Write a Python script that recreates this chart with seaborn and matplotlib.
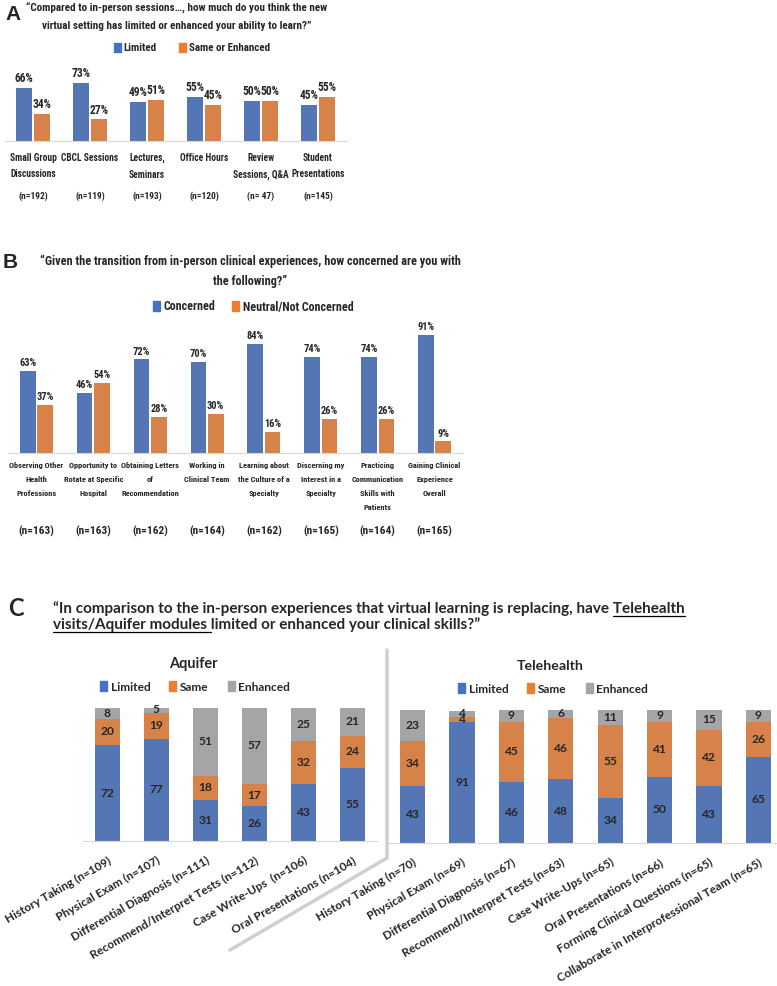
# Survey figure: panel A/B grouped bars, panel C stacked bars (Aquifer vs Telehealth)
import os
import numpy as np
import pandas as pd
import seaborn as sns
import matplotlib.pyplot as plt
from matplotlib import font_manager
from matplotlib.font_manager import FontProperties
from matplotlib.patches import Patch
from matplotlib.lines import Line2D

# %%
# data
a_cats = ['Small Group\nDiscussions', 'CBCL Sessions', 'Lectures,\nSeminars',
          'Office Hours', 'Review\nSessions, Q&A', 'Student\nPresentations']
a_n = ['(n=192)', '(n=119)', '(n=193)', '(n=120)', '(n= 47)', '(n=145)']
a_limited = [66, 73, 49, 55, 50, 45]
a_same = [34, 27, 51, 45, 50, 55]

b_cats = ['Observing Other\nHealth\nProfessions', 'Opportunity to\nRotate at Specific\nHospital',
          'Obtaining Letters\nof\nRecommendation', 'Working in\nClinical Team',
          'Learning about\nthe Culture of a\nSpecialty', 'Discerning my\nInterest in a\nSpecialty',
          'Practicing\nCommunication\nSkills with\nPatients', 'Gaining Clinical\nExperience\nOverall']
b_n = ['(n=163)', '(n=163)', '(n=162)', '(n=164)', '(n=162)', '(n=165)', '(n=164)', '(n=165)']
b_concerned = [63, 46, 72, 70, 84, 74, 74, 91]
b_neutral = [37, 54, 28, 30, 16, 26, 26, 9]

aq_cats = ['History Taking (n=109)', 'Physical Exam (n=107)', 'Differential Diagnosis (n=111)',
           'Recommend/Interpret Tests (n=112)', 'Case Write-Ups  (n=106)', 'Oral Presentations (n=104)']
aq_limited = [72, 77, 31, 26, 43, 55]
aq_same = [20, 19, 18, 17, 32, 24]
aq_enhanced = [8, 5, 51, 57, 25, 21]

th_cats = ['History Taking (n=70)', 'Physical Exam (n=69)', 'Differential Diagnosis (n=67)',
           'Recommend/Interpret Tests (n=63)', 'Case Write-Ups (n=65)', 'Oral Presentations (n=66)',
           'Forming Clinical Questions (n=65)', 'Collaborate in Interprofessional Team (n=65)']
th_limited = [43, 91, 46, 48, 34, 50, 43, 65]
th_same = [34, 4, 45, 46, 55, 41, 42, 26]
th_enhanced = [23, 4, 9, 6, 11, 9, 15, 9]

BLUE, ORANGE, GRAY = '#4472C4', '#ED7D31', '#A5A5A5'

# %%
sns.set_style('white')
plt.rcParams['font.family'] = ['Liberation Sans', 'DejaVu Sans']

def find_font(keys):
    files = [f.fname for f in font_manager.fontManager.ttflist]
    for k in keys:
        for fn in files:
            base = os.path.basename(fn).lower().replace('_', '').replace('-', '').replace(' ', '')
            if base.startswith(k):
                return fn
    return None

narrow_file = find_font(['robotocondensedbold.', 'liberationsansnarrowbold.',
                         'opensanscondensedbold.', 'dejavusanscondensedbold.'])
if narrow_file:
    NARROW = FontProperties(fname=narrow_file)
else:
    NARROW = FontProperties(family='Liberation Sans', weight='bold')
WIDE = FontProperties(family=['Lato', 'DejaVu Sans'], weight='bold')

W, H = 777, 986
fig = plt.figure(figsize=(W / 100, H / 100), dpi=100)
r = fig.canvas.get_renderer()

def fp(base, size):
    p = base.copy()
    p.set_size(size)
    return p

def text_w(s, prop):
    t = fig.text(0, 0, s, fontproperties=prop)
    w = t.get_window_extent(renderer=r).width
    t.remove()
    return w

def fit(s, target_px, base):
    # font size that gives the string the width seen in the reference
    return 10 * target_px / text_w(s, fp(base, 10))

def box(l, t, rr, b):
    return [l / W, 1 - b / H, (rr - l) / W, (b - t) / H]

def clean(ax):
    sns.despine(ax=ax, left=True)
    ax.spines['bottom'].set_color('#d9d9d9')
    ax.spines['bottom'].set_linewidth(0.8)
    ax.set_yticks([])
    ax.set_xlabel('')
    ax.set_ylabel('')
    ax.tick_params(axis='x', length=0)

def grouped(ax, cats, n_labels, s1, s2, labs, f_tick, f_val, f_n, pad, ls, n_off):
    df = pd.DataFrame({'cat': cats * 2, 'pct': s1 + s2,
                       'grp': [labs[0]] * len(cats) + [labs[1]] * len(cats)})
    sns.barplot(data=df, x='cat', y='pct', hue='grp', palette=[BLUE, ORANGE],
                width=0.61, gap=0.1, errorbar=None, legend=False, linewidth=0, ax=ax)
    for c in ax.containers:
        ax.bar_label(c, fmt='%g%%', padding=2, fontproperties=fp(NARROW, f_val))
    clean(ax)
    ax.set_ylim(0, 100)
    ax.set_xlim(-0.5, len(cats) - 0.5)
    ax.set_xticks(range(len(cats)))
    ax.set_xticklabels(cats, fontproperties=fp(NARROW, f_tick), linespacing=ls)
    ax.tick_params(axis='x', pad=pad)
    for i, n in enumerate(n_labels):
        ax.annotate(n, xy=(i, 0), xycoords=('data', 'axes fraction'),
                    xytext=(0, -n_off * 0.72), textcoords='offset points',
                    ha='center', va='center', fontproperties=fp(NARROW, f_n))

def stacked(ax, cats, lim, same, enh, f_val, f_tick):
    df = pd.DataFrame({'cat': cats, 'lim': lim, 'same': same, 'enh': enh})
    df['top_same'] = df['lim'] + df['same']
    df['top_enh'] = df['top_same'] + df['enh']
    for col, colr in [('top_enh', GRAY), ('top_same', ORANGE), ('lim', BLUE)]:
        sns.barplot(data=df, x='cat', y=col, color=colr, width=0.51,
                    errorbar=None, linewidth=0, ax=ax)
    for i, row in df.iterrows():
        bottom = 0
        for v in [row['lim'], row['same'], row['enh']]:
            ax.text(i, bottom + v / 2, str(v), ha='center', va='center',
                    fontproperties=fp(WIDE, f_val))
            bottom += v
    clean(ax)
    ax.set_ylim(0, 100)
    ax.set_xlim(-0.5, len(cats) - 0.5)
    ax.set_xticks(range(len(cats)))
    ax.set_xticklabels(cats, rotation=30, ha='right', rotation_mode='anchor',
                       fontproperties=fp(WIDE, f_tick))
    ax.tick_params(axis='x', pad=10)

def legend(labels, colors, x, y, prop, spacing=1.6):
    handles = [Patch(color=c) for c in colors]
    fig.legend(handles, labels, loc='center', bbox_to_anchor=(x / W, 1 - y / H),
               ncol=len(labels), frameon=False, prop=prop, handlelength=0.6,
               handleheight=0.9, handletextpad=0.3, columnspacing=spacing)

# %%
# Panel A
a_tick = fit('Small Group', 43, NARROW) * 1.08
a_val = fit('66%', 17, NARROW) * 1.12
a_title = fit('“Compared to in-person sessions…, how much do you think the new', 273, NARROW) * 1.1
axA = fig.add_axes(box(4.5, 61, 346.5, 141))
grouped(axA, a_cats, a_n, a_limited, a_same, ['Limited', 'Same or Enhanced'],
        a_tick, a_val, fit('(n=192)', 27, NARROW) * 1.1, 8.5, 1.8, 55)
fig.text(5 / W, 1 - 15 / H, 'A', fontsize=15, fontweight='bold', va='center')
fig.text(177 / W, 1 - 8 / H, '“Compared to in-person sessions…, how much do you think the new',
         ha='center', va='center', fontproperties=fp(NARROW, a_title))
fig.text(177 / W, 1 - 26 / H, 'virtual setting has limited or enhanced your ability to learn?”',
         ha='center', va='center', fontproperties=fp(NARROW, a_title))
legend(['Limited', 'Same or Enhanced'], [BLUE, ORANGE], 192, 48,
       fp(NARROW, fit('Same or Enhanced', 74, NARROW) * 1.1), 2.0)

# Panel B
b_tick = fit('Observing Other', 52, NARROW) * 1.05
b_title = fit('“Given the transition from in-person clinical experiences, how concerned are you with',
              382, NARROW) * 1.1
axB = fig.add_axes(box(8, 323, 463, 453))
grouped(axB, b_cats, b_n, b_concerned, b_neutral, ['Concerned', 'Neutral/Not Concerned'],
        b_tick, fit('63%', 15, NARROW) * 1.15, fit('(n=163)', 36, NARROW), 6.5, 2.15, 78)
fig.text(3 / W, 1 - 262 / H, 'B', fontsize=15, fontweight='bold', va='center')
fig.text(250 / W, 1 - 261 / H,
         '“Given the transition from in-person clinical experiences, how concerned are you with',
         ha='center', va='center', fontproperties=fp(NARROW, b_title))
fig.text(250 / W, 1 - 281 / H, 'the following?”', ha='center', va='center',
         fontproperties=fp(NARROW, b_title))
legend(['Concerned', 'Neutral/Not Concerned'], [BLUE, ORANGE], 253, 307,
       fp(NARROW, fit('Neutral/Not Concerned', 105, NARROW) * 1.05), 1.4)

# Panel C
c_val = fit('72', 14, WIDE)
c_tick = fit('History Taking (n=109)', 121, WIDE)
axQ = fig.add_axes(box(83, 708, 377, 841))
stacked(axQ, aq_cats, aq_limited, aq_same, aq_enhanced, c_val, c_tick)
axT = fig.add_axes(box(388, 710, 783, 843))
stacked(axT, th_cats, th_limited, th_same, th_enhanced, c_val, c_tick)

fig.text(8 / W, 1 - 608 / H, 'C', va='center', fontproperties=fp(WIDE, 17))
fig.text(193 / W, 1 - 664 / H, 'Aquifer', ha='center', va='center',
         fontproperties=fp(WIDE, fit('Aquifer', 49, WIDE)))
fig.text(550 / W, 1 - 666 / H, 'Telehealth', ha='center', va='center',
         fontproperties=fp(WIDE, fit('Telehealth', 67, WIDE)))
c_leg = fp(WIDE, fit('Enhanced', 52, WIDE))
legend(['Limited', 'Same', 'Enhanced'], [BLUE, ORANGE, GRAY], 195, 687, c_leg)
legend(['Limited', 'Same', 'Enhanced'], [BLUE, ORANGE, GRAY], 553, 689, c_leg)

# separator between the two stacked charts
fig.add_artist(Line2D([387 / W, 387 / W, 230 / W], [1 - 650 / H, 1 - 858 / H, 1 - 950 / H],
                      color='#cfcfcf', lw=2.5))

# C title with underlined words
c_line1 = '“In comparison to the in-person experiences that virtual learning is replacing, have Telehealth'
c_prop = fp(WIDE, fit(c_line1, 632, WIDE))
l1 = fig.text(53 / W, 1 - 613 / H, c_line1, fontproperties=c_prop, va='baseline', ha='left')
l2 = fig.text(53 / W, 1 - 629 / H, 'visits/Aquifer modules limited or enhanced your clinical skills?”',
              fontproperties=c_prop, va='baseline', ha='left')
e1 = l1.get_window_extent(renderer=r)
u1 = text_w('Telehealth', c_prop)
fig.add_artist(Line2D([(e1.x1 - u1) / W, e1.x1 / W], [1 - 615.5 / H] * 2, color='black', lw=0.9))
e2 = l2.get_window_extent(renderer=r)
u2 = text_w('visits/Aquifer modules l', c_prop) - text_w('l', c_prop)
fig.add_artist(Line2D([e2.x0 / W, (e2.x0 + u2) / W], [1 - 631.5 / H] * 2, color='black', lw=0.9))

fig.savefig('out.png', dpi=100)
